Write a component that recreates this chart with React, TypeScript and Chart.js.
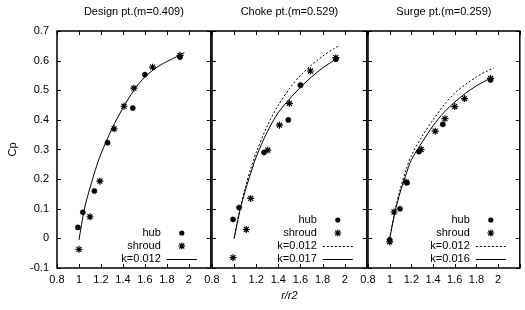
import { useEffect, useRef } from 'react';
import { Chart, registerables } from 'chart.js';

Chart.register(...registerables);

// ---- axis ticks ----
const X_TICKS = [0.8, 1.0, 1.2, 1.4, 1.6, 1.8, 2.0, 2.2];
const Y_TICKS = [-0.1, 0.0, 0.1, 0.2, 0.3, 0.4, 0.5, 0.6, 0.7];

// ---- panel titles ----
const TITLES = ['Design pt.(m=0.409)', 'Choke pt.(m=0.529)', 'Surge pt.(m=0.259)'];

// ---- Design point ----
const DESIGN_HUB_X = [0.99, 1.035, 1.14, 1.26, 1.49, 1.6, 1.92];
const DESIGN_HUB_Y = [0.037, 0.088, 0.16, 0.323, 0.44, 0.553, 0.612];
const DESIGN_SHROUD_X = [1.0, 1.1, 1.19, 1.32, 1.41, 1.5, 1.67, 1.92];
const DESIGN_SHROUD_Y = [-0.037, 0.073, 0.193, 0.37, 0.446, 0.507, 0.578, 0.618];
const DESIGN_K012_X = [1.0, 1.05, 1.1, 1.15, 1.2, 1.3, 1.4, 1.5, 1.6, 1.7, 1.8, 1.9, 1.96];
const DESIGN_K012_Y = [-0.005, 0.1, 0.17, 0.232, 0.285, 0.37, 0.44, 0.5, 0.545, 0.575, 0.597, 0.615, 0.627];

// ---- Choke point ----
const CHOKE_HUB_X = [0.99, 1.045, 1.27, 1.49, 1.6, 1.92];
const CHOKE_HUB_Y = [0.064, 0.104, 0.29, 0.4, 0.517, 0.605];
const CHOKE_SHROUD_X = [0.99, 1.11, 1.15, 1.305, 1.41, 1.5, 1.69, 1.92];
const CHOKE_SHROUD_Y = [-0.065, 0.03, 0.135, 0.298, 0.382, 0.456, 0.565, 0.61];
const CHOKE_K012_X = [1.0, 1.05, 1.1, 1.15, 1.2, 1.3, 1.4, 1.5, 1.6, 1.7, 1.8, 1.9, 1.95];
const CHOKE_K012_Y = [0.0, 0.095, 0.17, 0.235, 0.29, 0.38, 0.45, 0.505, 0.55, 0.585, 0.615, 0.64, 0.65];
const CHOKE_K017_X = [1.0, 1.05, 1.1, 1.15, 1.2, 1.3, 1.4, 1.5, 1.6, 1.7, 1.8, 1.9, 1.95];
const CHOKE_K017_Y = [0.0, 0.09, 0.16, 0.22, 0.275, 0.36, 0.425, 0.47, 0.51, 0.545, 0.575, 0.6, 0.61];

// ---- Surge point ----
const SURGE_HUB_X = [1.0, 1.095, 1.16, 1.27, 1.49, 1.93];
const SURGE_HUB_Y = [-0.005, 0.1, 0.188, 0.293, 0.385, 0.535];
const SURGE_SHROUD_X = [1.0, 1.04, 1.15, 1.29, 1.42, 1.51, 1.6, 1.69, 1.93];
const SURGE_SHROUD_Y = [-0.012, 0.089, 0.19, 0.3, 0.362, 0.404, 0.445, 0.472, 0.54];
const SURGE_K012_X = [1.0, 1.05, 1.1, 1.15, 1.2, 1.3, 1.4, 1.5, 1.6, 1.7, 1.8, 1.9, 1.96];
const SURGE_K012_Y = [0.0, 0.095, 0.17, 0.23, 0.28, 0.345, 0.4, 0.45, 0.49, 0.52, 0.545, 0.565, 0.575];
const SURGE_K016_X = [1.0, 1.05, 1.1, 1.15, 1.2, 1.3, 1.4, 1.5, 1.6, 1.7, 1.8, 1.9, 1.93];
const SURGE_K016_Y = [0.0, 0.09, 0.16, 0.215, 0.265, 0.325, 0.38, 0.425, 0.46, 0.49, 0.515, 0.535, 0.542];

const FONT = '"Liberation Sans", Arial, sans-serif';

const pts = (xs: number[], ys: number[]) => xs.map((x, i) => ({ x, y: ys[i] }));

const hubSet = (xs: number[], ys: number[]) => ({
  label: 'hub',
  data: pts(xs, ys),
  showLine: false,
  pointStyle: 'circle',
  pointRadius: 2.6,
  backgroundColor: '#000',
  borderColor: '#000',
  borderWidth: 0.5,
});
const shroudSet = (xs: number[], ys: number[]) => ({
  label: 'shroud',
  data: pts(xs, ys),
  showLine: false,
  pointStyle: 'star',
  pointRadius: 3.5,
  backgroundColor: '#000',
  borderColor: '#000',
  borderWidth: 1.2,
});
const lineSet = (label: string, xs: number[], ys: number[], dash: number[]) => ({
  label,
  data: pts(xs, ys),
  showLine: true,
  pointRadius: 0,
  borderColor: '#000',
  borderWidth: 1,
  borderDash: dash,
  tension: 0.3,
});

const PANELS = [
  {
    left: 0, width: 216, pad: { left: 0, right: 4 },
    datasets: [
      hubSet(DESIGN_HUB_X, DESIGN_HUB_Y),
      shroudSet(DESIGN_SHROUD_X, DESIGN_SHROUD_Y),
      lineSet('k=0.012', DESIGN_K012_X, DESIGN_K012_Y, []),
    ],
  },
  {
    left: 196, width: 176, pad: { left: 16, right: 4 },
    datasets: [
      hubSet(CHOKE_HUB_X, CHOKE_HUB_Y),
      shroudSet(CHOKE_SHROUD_X, CHOKE_SHROUD_Y),
      lineSet('k=0.012', CHOKE_K012_X, CHOKE_K012_Y, [2, 2]),
      lineSet('k=0.017', CHOKE_K017_X, CHOKE_K017_Y, []),
    ],
  },
  {
    left: 352, width: 173, pad: { left: 16, right: 2 },
    datasets: [
      hubSet(SURGE_HUB_X, SURGE_HUB_Y),
      shroudSet(SURGE_SHROUD_X, SURGE_SHROUD_Y),
      lineSet('k=0.012', SURGE_K012_X, SURGE_K012_Y, [2, 2]),
      lineSet('k=0.016', SURGE_K016_X, SURGE_K016_Y, []),
    ],
  },
];

const panelPlugin = {
  id: 'panel',
  afterDraw(chart: any, _args: any, opts: any) {
    const { ctx, chartArea: a, scales } = chart;
    const xs = scales.x;
    const ys = scales.y;
    ctx.save();
    ctx.strokeStyle = '#000';
    ctx.setLineDash([]);
    // inward ticks
    ctx.lineWidth = 1;
    ctx.beginPath();
    const L = 4;
    X_TICKS.forEach((v) => {
      const p = Math.round(xs.getPixelForValue(v)) + 0.5;
      ctx.moveTo(p, a.bottom);
      ctx.lineTo(p, a.bottom - L);
      ctx.moveTo(p, a.top);
      ctx.lineTo(p, a.top + L);
    });
    Y_TICKS.forEach((v) => {
      const p = Math.round(ys.getPixelForValue(v)) + 0.5;
      ctx.moveTo(a.left, p);
      ctx.lineTo(a.left + L, p);
      ctx.moveTo(a.right, p);
      ctx.lineTo(a.right - L, p);
    });
    ctx.stroke();
    // frame
    ctx.lineWidth = 1.5;
    ctx.strokeRect(a.left, a.top, a.right - a.left, a.bottom - a.top);
    // title
    ctx.fillStyle = '#000';
    ctx.font = `11px ${FONT}`;
    ctx.textAlign = 'center';
    ctx.textBaseline = 'middle';
    ctx.fillText(opts.title, (a.left + a.right) / 2, 12);
    // legend (gnuplot style: text then sample)
    const ds = chart.data.datasets;
    const n = ds.length;
    const rowH = 13;
    ds.forEach((d: any, i: number) => {
      const y = a.bottom - 9 - (n - 1 - i) * rowH;
      ctx.textAlign = 'right';
      ctx.fillText(d.label, a.right - 50, y);
      const cx = a.right - 29;
      if (d.showLine) {
        ctx.lineWidth = d.borderWidth;
        ctx.setLineDash(d.borderDash || []);
        ctx.beginPath();
        ctx.moveTo(cx - 15, y + 0.5);
        ctx.lineTo(cx + 15, y + 0.5);
        ctx.stroke();
        ctx.setLineDash([]);
      } else if (d.pointStyle === 'circle') {
        ctx.beginPath();
        ctx.arc(cx, y, d.pointRadius, 0, Math.PI * 2);
        ctx.fill();
      } else {
        const r = d.pointRadius;
        ctx.lineWidth = d.borderWidth;
        ctx.beginPath();
        for (let k = 0; k < 4; k++) {
          const ang = (k * Math.PI) / 4;
          ctx.moveTo(cx - Math.cos(ang) * r, y - Math.sin(ang) * r);
          ctx.lineTo(cx + Math.cos(ang) * r, y + Math.sin(ang) * r);
        }
        ctx.stroke();
      }
    });
    ctx.restore();
  },
};

function Panel({ idx }: { idx: number }) {
  const ref = useRef<HTMLCanvasElement | null>(null);
  const p = PANELS[idx];
  useEffect(() => {
    if (!ref.current) return;
    const first = idx === 0;
    const middle = idx === 1;
    const chart = new Chart(ref.current, {
      type: 'scatter',
      data: { datasets: p.datasets as any },
      options: {
        animation: false,
        responsive: false,
        maintainAspectRatio: false,
        layout: { padding: { top: 31, bottom: 0, left: p.pad.left, right: p.pad.right } },
        plugins: {
          legend: { display: false },
          tooltip: { enabled: false },
          panel: { title: TITLES[idx] },
        } as any,
        scales: {
          x: {
            type: 'linear',
            min: 0.8,
            max: 2.2,
            afterBuildTicks: (s: any) => {
              s.ticks = X_TICKS.map((v) => ({ value: v }));
            },
            afterFit: (s: any) => {
              s.height = 42;
              s.paddingLeft = 0;
              s.paddingRight = 0;
            },
            grid: { display: false, drawTicks: false },
            border: { display: false },
            ticks: {
              color: '#000',
              font: { family: FONT, size: 11 },
              padding: 5,
              maxRotation: 0,
              autoSkip: false,
              callback: (v: any) => (v > 2.1 ? '' : String(v)),
            },
            title: {
              display: middle,
              text: 'r/r2',
              color: '#000',
              font: { family: FONT, size: 11, style: 'italic' },
              padding: { top: 0, bottom: 7 },
            },
          },
          y: {
            type: 'linear',
            display: first,
            min: -0.1,
            max: 0.7,
            afterBuildTicks: (s: any) => {
              s.ticks = Y_TICKS.map((v) => ({ value: v }));
            },
            afterFit: (s: any) => {
              s.width = first ? 57 : 0;
              s.paddingTop = 0;
              s.paddingBottom = 0;
            },
            grid: { display: false, drawTicks: false },
            border: { display: false },
            ticks: {
              color: '#000',
              font: { family: FONT, size: 11 },
              padding: 8,
              autoSkip: false,
              callback: (v: any) => String(v),
            },
            title: {
              display: first,
              text: 'Cp',
              color: '#000',
              font: { family: FONT, size: 11 },
              padding: { top: 6, bottom: 0 },
            },
          },
        },
      },
      plugins: [panelPlugin],
    });
    return () => chart.destroy();
  }, [idx]);
  return (
    <canvas
      ref={ref}
      width={p.width}
      height={310}
      style={{ position: 'absolute', left: p.left, top: 0, width: p.width, height: 310 }}
    />
  );
}

export default function App() {
  return (
    <div style={{ position: 'fixed', left: 0, top: 0, width: 525, height: 310, background: '#fff' }}>
      <Panel idx={0} />
      <Panel idx={1} />
      <Panel idx={2} />
    </div>
  );
}
